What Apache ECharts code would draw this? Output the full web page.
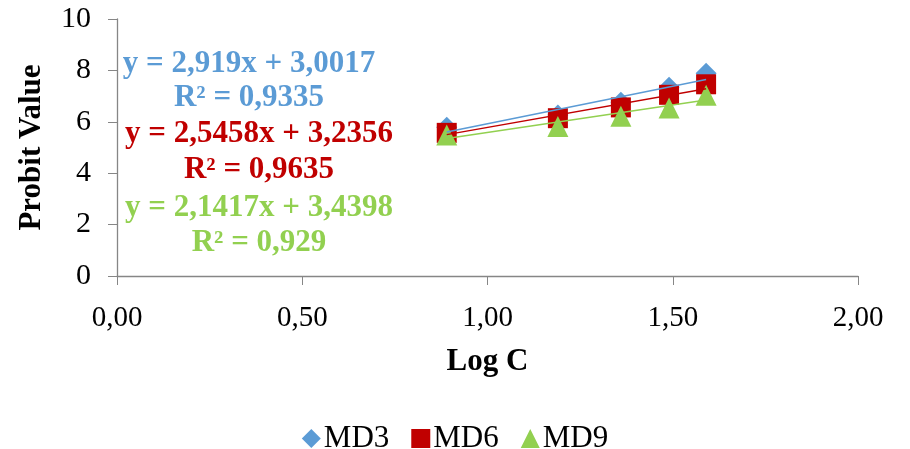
<!DOCTYPE html>
<html>
<head>
<meta charset="utf-8">
<script src="https://cdn.jsdelivr.net/npm/echarts@6/dist/echarts.min.js"></script>
<style>
  html, body { margin: 0; padding: 0; background: #fff; }
  #chart { width: 910px; height: 449px; }
</style>
</head>
<body>
<div id="chart"></div>
<script>
// Log concentration on x, probit value on y
const logC = [0.89, 1.19, 1.36, 1.49, 1.59];
const md3 = [5.79, 6.26, 6.76, 7.34, 7.89];
const md6 = [5.57, 6.14, 6.56, 7.05, 7.46];
const md9 = [5.49, 5.82, 6.22, 6.54, 7.03];

// Linear fits: slope, intercept, R²
const seriesNames = ['MD3', 'MD6', 'MD9'];
const slopes = [2.919, 2.5458, 2.1417];
const intercepts = [3.0017, 3.2356, 3.4398];
const rSquared = ['0,9335', '0,9635', '0,929'];
const xTicks = [0, 0.5, 1, 1.5, 2];

const colors = ['#5B9BD5', '#C00000', '#92D050'];
const symbols = ['diamond', 'rect', 'triangle'];
const symbolSizes = [[21, 21], [20, 20], [21, 21]];
const values = [md3, md6, md9];
const FONT = '"Liberation Serif", "Times New Roman", serif';

const comma = (v, d) => v.toFixed(d).replace('.', ',');

const scatterSeries = seriesNames.map((name, i) => ({
  name: name,
  type: 'scatter',
  z: 2 + i,
  symbol: symbols[i],
  symbolSize: symbolSizes[i],
  itemStyle: { color: colors[i], opacity: 1 },
  data: logC.map((x, k) => [x, values[i][k]])
}));

const trendSeries = seriesNames.map((name, i) => {
  const x0 = logC[0], x1 = logC[logC.length - 1];
  return {
    name: name + ' fit',
    type: 'line',
    z: 6,
    symbol: 'none',
    silent: true,
    lineStyle: { color: colors[i], width: 1.5 },
    data: [[x0, slopes[i] * x0 + intercepts[i]], [x1, slopes[i] * x1 + intercepts[i]]]
  };
});

// Equation annotations
const eqText = [];
const eqTop = [64, 134, 208];
const r2Top = [98, 170, 243];
const eqCenter = [249, 259, 259];
seriesNames.forEach((name, i) => {
  const eq = 'y = ' + String(slopes[i]).replace('.', ',') + 'x + ' + String(intercepts[i]).replace('.', ',');
  eqText.push({
    type: 'text', x: eqCenter[i], y: eqTop[i], z: 10,
    style: { text: eq, fill: colors[i], font: 'bold 31px ' + FONT, textAlign: 'center', textVerticalAlign: 'middle' }
  });
  eqText.push({
    type: 'text', x: eqCenter[i], y: r2Top[i], z: 10,
    style: { text: 'R² = ' + rSquared[i], fill: colors[i], font: 'bold 31px ' + FONT, textAlign: 'center', textVerticalAlign: 'middle' }
  });
});

const chart = echarts.init(document.getElementById('chart'));
chart.setOption({
  backgroundColor: '#ffffff',
  animation: false,
  textStyle: { fontFamily: FONT },
  grid: { left: 117, right: 52, top: 19, bottom: 173, containLabel: false },
  legend: {
    data: seriesNames.map((n, i) => ({ name: n, icon: symbols[i] })),
    top: 418,
    left: 'center',
    itemWidth: 19,
    itemHeight: 19,
    itemGap: 22,
    textStyle: { fontFamily: FONT, fontSize: 31, color: '#000', padding: [0, 0, 0, -2] }
  },
  xAxis: {
    type: 'value',
    min: xTicks[0],
    max: xTicks[xTicks.length - 1],
    interval: 0.5,
    name: 'Log C',
    nameLocation: 'middle',
    nameGap: 70,
    nameTextStyle: { fontFamily: FONT, fontSize: 31, fontWeight: 'bold', color: '#000' },
    axisLine: { lineStyle: { color: '#868686', width: 1.3 } },
    axisTick: { show: true, length: 9, lineStyle: { color: '#868686' } },
    axisLabel: { fontFamily: FONT, fontSize: 29, color: '#000', margin: 28, formatter: v => comma(v, 2) },
    splitLine: { show: false }
  },
  yAxis: {
    type: 'value',
    min: 0,
    max: 10,
    interval: 2,
    name: 'Probit Value',
    nameLocation: 'middle',
    nameGap: 70,
    nameTextStyle: { fontFamily: FONT, fontSize: 31, fontWeight: 'bold', color: '#000' },
    axisLine: { show: true, lineStyle: { color: '#868686', width: 1.3 } },
    axisTick: { show: true, length: 9, lineStyle: { color: '#868686' } },
    axisLabel: { fontFamily: FONT, fontSize: 30, color: '#000', margin: 26 },
    splitLine: { show: false }
  },
  graphic: eqText,
  series: scatterSeries.concat(trendSeries)
});
</script>
</body>
</html>
